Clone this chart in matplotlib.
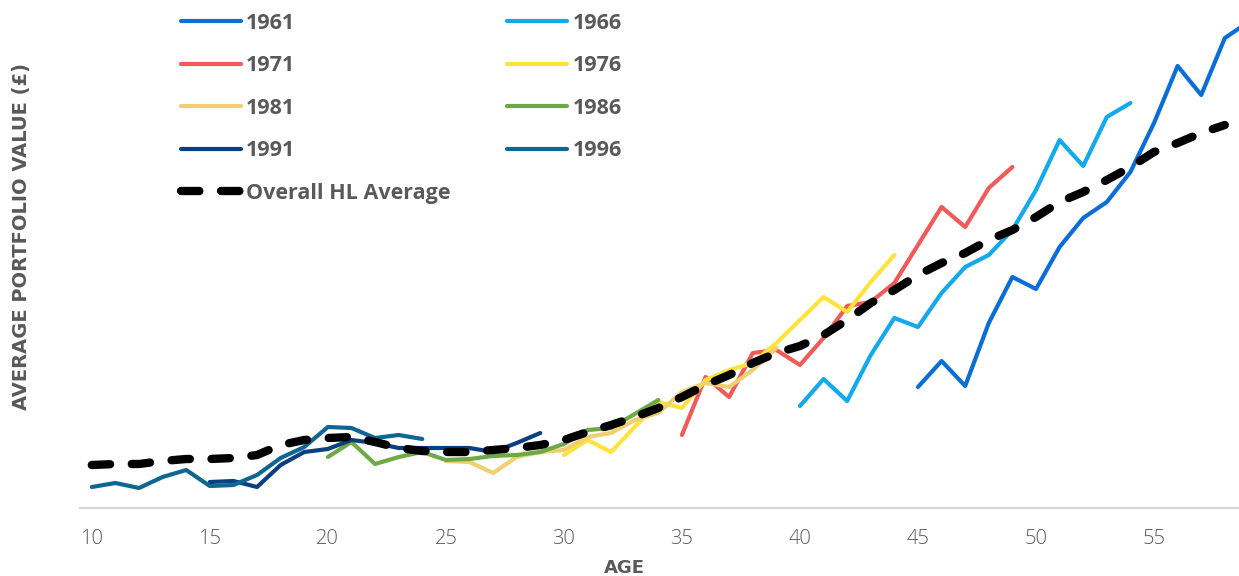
import numpy as np
import matplotlib.pyplot as plt

# average portfolio value (£k) by age, one cohort per birth year, 2006-2020
cohorts = ["1961", "1966", "1971", "1976", "1981", "1986", "1991", "1996"]
start_age = [45, 40, 35, 30, 25, 20, 15, 10]
v1961 = [60.5, 73.5, 61, 92.5, 115.5, 109.5, 130.5, 145, 153, 168, 192.5, 221, 206.5, 235, 243]
v1966 = [51, 64.5, 53.5, 76.5, 95, 90.5, 107.5, 120.5, 126.5, 139, 159, 184, 171, 195.5, 202.5]
v1971 = [36.5, 65.5, 55.5, 77.5, 79, 71.5, 85, 101, 103, 112.5, 131.5, 150.5, 140.5, 160, 170.5]
v1976 = [26.5, 34, 28, 40.5, 53, 50, 64, 69, 72.5, 82.5, 94, 105.5, 98, 113, 126.5]
v1981 = [23.5, 23, 17.5, 25.5, 28, 29, 35.5, 37.5, 44, 47.5, 58, 62.5, 60.5, 69, 80]
v1986 = [25.5, 33, 22, 25.5, 28, 24, 24.5, 26, 26.5, 28, 32, 39, 40, 47, 54]
v1991 = [13, 13.5, 10.5, 21.5, 28, 29.5, 34, 32.5, 30, 30, 30, 30, 28, 32.5, 37.5]
v1996 = [10.5, 12.5, 10, 15.5, 19, 11, 11.5, 16.5, 25, 30.5, 40.5, 40, 35, 36.5, 34.5]
values = [v1961, v1966, v1971, v1976, v1981, v1986, v1991, v1996]

avg_ages = np.arange(10, 59)
avg_values = [21.5, 22, 22, 23.5, 24.5, 24.5, 25, 26.5, 31.5, 34,
              35, 35.5, 33, 30, 28.5, 28, 28, 29, 30, 31.5,
              34, 38, 41.5, 45.5, 50, 55.5, 61.5, 66.5, 72.5, 77.5,
              81, 86.5, 94, 102.5, 109, 116.5, 122.5, 127.5, 134, 139,
              145.5, 153, 158, 164, 170.5, 178, 182.5, 187.5, 191.5]

colors = ["#0A6ED9", "#12A9EE", "#F25A5A", "#FFE33B",
          "#EFCF6E", "#6DAA45", "#0B3F80", "#0E6793"]
grey = "#595959"

plt.rcParams['font.family'] = ['Open Sans', 'DejaVu Sans']

fig = plt.figure(figsize=(12.39, 5.76), dpi=100)
ax = fig.add_axes([80 / 1239, 68 / 576, 1 - 80 / 1239, 1 - 68 / 576])

lines = {}
for name, a0, vals, c in zip(cohorts, start_age, values, colors):
    ages = np.arange(a0, a0 + len(vals))
    lines[name], = ax.plot(ages, vals, color=c, lw=3, solid_capstyle='round',
                           solid_joinstyle='round', label=name)

avg_line, = ax.plot(avg_ages, avg_values, color='black', lw=6,
                    dashes=(2.2, 2.6), dash_capstyle='round',
                    label='Overall HL Average', zorder=5)

ax.set_xlim(9.5, 58.6)
ax.set_ylim(0, 254)
ax.set_xticks(range(10, 60, 5))
ax.set_yticks([])
for s in ['top', 'right', 'left']:
    ax.spines[s].set_visible(False)
ax.spines['bottom'].set_color('#D9D9D9')
ax.spines['bottom'].set_linewidth(1.6)
ax.tick_params(axis='x', length=0, pad=15, labelsize=14.5, labelcolor=grey)
for lbl in ax.get_xticklabels():
    lbl.set_fontweight('light')

# wider face for the axis titles
title_font = dict(family='DejaVu Sans', fontweight='bold', color=grey)
ax.set_xlabel('AGE', fontsize=13, **title_font)
ax.xaxis.set_label_coords((624 - 80) / 1159, -0.1)
fig.text(22 / 1239, 1 - 236 / 576, 'AVERAGE PORTFOLIO VALUE (£)', rotation=90,
         ha='center', va='center', fontsize=14, **title_font)

# legend laid out column-first so rows read 1961/1966, 1971/1976, ...
order = ["1961", "1971", "1981", "1991", None, "1966", "1976", "1986", "1996"]
handles = [avg_line if k is None else lines[k] for k in order]
labels = [h.get_label() for h in handles]
leg = fig.legend(handles, labels, ncol=2, loc='upper left',
                 bbox_to_anchor=(172 / 1239, 1 - 4 / 576), frameon=False,
                 prop={'size': 15.5, 'weight': 'bold'}, handlelength=2.8,
                 handletextpad=0.25, columnspacing=2.6, labelspacing=1.0,
                 borderaxespad=0)
for t in leg.get_texts():
    t.set_color(grey)

fig.savefig('out.png', dpi=100)
